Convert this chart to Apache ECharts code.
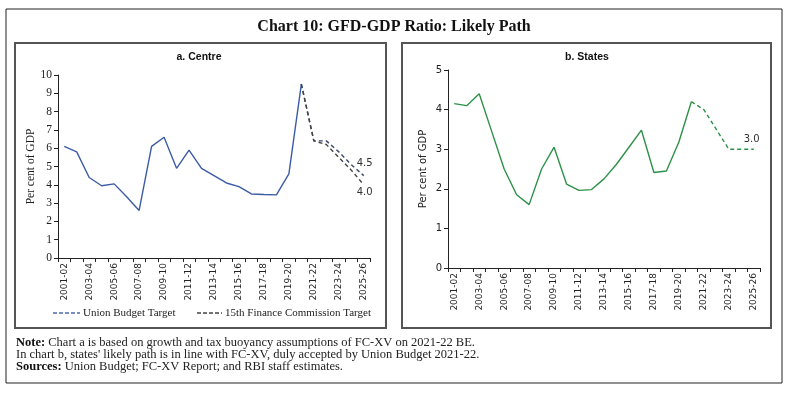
<!DOCTYPE html>
<html>
<head>
<meta charset="utf-8">
<script src="https://cdn.jsdelivr.net/npm/echarts@6/dist/echarts.min.js"></script>
<style>
html,body{margin:0;padding:0;background:#fff;}
#chart{width:788px;height:393px;}
</style>
</head>
<body>
<div id="chart"></div>
<script>
const categories = ['2001-02','2002-03','2003-04','2004-05','2005-06','2006-07','2007-08','2008-09','2009-10','2010-11','2011-12','2012-13','2013-14','2014-15','2015-16','2016-17','2017-18','2018-19','2019-20','2020-21','2021-22','2022-23','2023-24','2024-25','2025-26'];

const centreActual = [6.1,5.8,4.4,3.95,4.05,3.35,2.6,6.1,6.6,4.9,5.9,4.9,4.5,4.1,3.9,3.5,3.47,3.45,4.6,9.5,null,null,null,null,null];
const centreUnionBudget = [null,null,null,null,null,null,null,null,null,null,null,null,null,null,null,null,null,null,null,9.5,6.4,6.4,5.8,5.1,4.5];
const centreFinanceCommission = [null,null,null,null,null,null,null,null,null,null,null,null,null,null,null,null,null,null,null,9.5,6.4,6.2,5.5,4.8,4.0];

const statesActual = [4.15,4.1,4.4,3.45,2.5,1.85,1.6,2.5,3.05,2.12,1.96,1.98,2.25,2.62,3.05,3.48,2.41,2.45,3.18,4.2,null,null,null,null,null];
const statesPath = [null,null,null,null,null,null,null,null,null,null,null,null,null,null,null,null,null,null,null,4.2,4.0,3.5,3.0,3.0,3.0];

const centreTicks = {min:0,max:10,interval:1};
const statesTicks = {min:0,max:5,interval:1};

const serif = 'Liberation Serif';
const sans = 'DejaVu Sans';
const blue = '#3c5ba6';
const green = '#2e9148';

function endLbl(offset){
  return {show:true,formatter:(p)=>Number(p.value).toFixed(1),offset:offset,color:'#333',fontFamily:sans,fontSize:10,distance:5};
}

const chart = echarts.init(document.getElementById('chart'), null, {renderer:'canvas'});
const xAxisCommon = {
  type:'category', data:categories, boundaryGap:true,
  axisLine:{lineStyle:{color:'#222',width:1}},
  axisTick:{show:true,interval:0,length:4,lineStyle:{color:'#222'}},
  axisLabel:{interval:1,rotate:90,fontFamily:sans,fontSize:9,color:'#222',margin:5}
};
chart.setOption({
  animation:false,
  backgroundColor:'#fff',
  graphic:[
    {type:'rect',shape:{x:6,y:9,width:776,height:374},style:{fill:'none',stroke:'#222',lineWidth:1},silent:true},
    {type:'rect',shape:{x:15,y:43,width:371,height:285},style:{fill:'none',stroke:'#555',lineWidth:2},silent:true},
    {type:'rect',shape:{x:402,y:43,width:369,height:285},style:{fill:'none',stroke:'#555',lineWidth:2},silent:true},
    {type:'text',x:394,y:27,style:{text:'Chart 10: GFD-GDP Ratio: Likely Path',fontFamily:serif,fontWeight:'bold',fontSize:16,fill:'#111',textAlign:'center',textVerticalAlign:'middle'}},
    {type:'text',x:199,y:57,style:{text:'a. Centre',fontFamily:'Liberation Sans',fontWeight:'bold',fontSize:10.5,fill:'#111',textAlign:'center',textVerticalAlign:'middle'}},
    {type:'text',x:587,y:57,style:{text:'b. States',fontFamily:'Liberation Sans',fontWeight:'bold',fontSize:10.5,fill:'#111',textAlign:'center',textVerticalAlign:'middle'}},
    {type:'line',shape:{x1:53,y1:313,x2:80,y2:313},style:{stroke:'#4a6cb3',lineWidth:1.5,lineDash:[4,2]},silent:true},
    {type:'text',x:83,y:313,style:{text:'Union Budget Target',fontFamily:serif,fontSize:11,fill:'#222',textVerticalAlign:'middle'}},
    {type:'line',shape:{x1:197,y1:313,x2:222,y2:313},style:{stroke:'#444',lineWidth:1.5,lineDash:[4,2]},silent:true},
    {type:'text',x:225,y:313,style:{text:'15th Finance Commission Target',fontFamily:serif,fontSize:11,fill:'#222',textVerticalAlign:'middle'}},
    {type:'text',x:16,y:343,style:{rich:{b:{fontFamily:serif,fontWeight:'bold',fontSize:12.5,fill:'#111'},n:{fontFamily:serif,fontSize:12.5,fill:'#222'}},text:'{b|Note:}{n| Chart a is based on growth and tax buoyancy assumptions of FC-XV on 2021-22 BE.}',textVerticalAlign:'middle'}},
    {type:'text',x:16,y:355,style:{text:"In chart b, states' likely path is in line with FC-XV, duly accepted by Union Budget 2021-22.",fontFamily:serif,fontSize:12.5,fill:'#222',textVerticalAlign:'middle'}},
    {type:'text',x:16,y:367,style:{rich:{b:{fontFamily:serif,fontWeight:'bold',fontSize:12.5,fill:'#111'},n:{fontFamily:serif,fontSize:12.5,fill:'#222'}},text:'{b|Sources:}{n| Union Budget; FC-XV Report; and RBI staff estimates.}',textVerticalAlign:'middle'}}
  ],
  grid:[
    {left:58,top:75,width:312,height:183},
    {left:448,top:70,width:312,height:198}
  ],
  xAxis:[
    Object.assign({gridIndex:0},xAxisCommon),
    Object.assign({gridIndex:1},xAxisCommon)
  ],
  yAxis:[
    {gridIndex:0,type:'value',min:centreTicks.min,max:centreTicks.max,interval:centreTicks.interval,
     axisLine:{show:true,lineStyle:{color:'#222'}},axisTick:{show:true,length:4,lineStyle:{color:'#222'}},splitLine:{show:false},
     axisLabel:{fontFamily:serif,fontSize:11.5,color:'#222',margin:6},
     name:'Per cent of GDP',nameLocation:'middle',nameGap:21,nameTextStyle:{fontFamily:serif,fontSize:11.5,color:'#222'}},
    {gridIndex:1,type:'value',min:statesTicks.min,max:statesTicks.max,interval:statesTicks.interval,
     axisLine:{show:true,lineStyle:{color:'#222'}},axisTick:{show:true,length:4,lineStyle:{color:'#222'}},splitLine:{show:false},
     axisLabel:{fontFamily:sans,fontSize:10,color:'#222',margin:6},
     name:'Per cent of GDP',nameLocation:'middle',nameGap:20,nameTextStyle:{fontFamily:sans,fontSize:10,color:'#222'}}
  ],
  series:[
    {name:'Centre',type:'line',xAxisIndex:0,yAxisIndex:0,data:centreActual,symbol:'none',lineStyle:{color:blue,width:1.4},itemStyle:{color:blue},z:3},
    {name:'Union Budget Target',type:'line',xAxisIndex:0,yAxisIndex:0,data:centreUnionBudget,symbol:'none',lineStyle:{color:'#3a4770',width:1.4,type:[4,3]},itemStyle:{color:'#3a4770'},endLabel:endLbl([-12,-12])},
    {name:'15th Finance Commission Target',type:'line',xAxisIndex:0,yAxisIndex:0,data:centreFinanceCommission,symbol:'none',lineStyle:{color:'#444',width:1.4,type:[4,3]},itemStyle:{color:'#444'},endLabel:endLbl([-12,8])},
    {name:'States',type:'line',xAxisIndex:1,yAxisIndex:1,data:statesActual,symbol:'none',lineStyle:{color:green,width:1.4},itemStyle:{color:green}},
    {name:'States path',type:'line',xAxisIndex:1,yAxisIndex:1,data:statesPath,symbol:'none',lineStyle:{color:green,width:1.4,type:[4,3]},itemStyle:{color:green},endLabel:endLbl([-15,-10])}
  ]
});
</script>
</body>
</html>
